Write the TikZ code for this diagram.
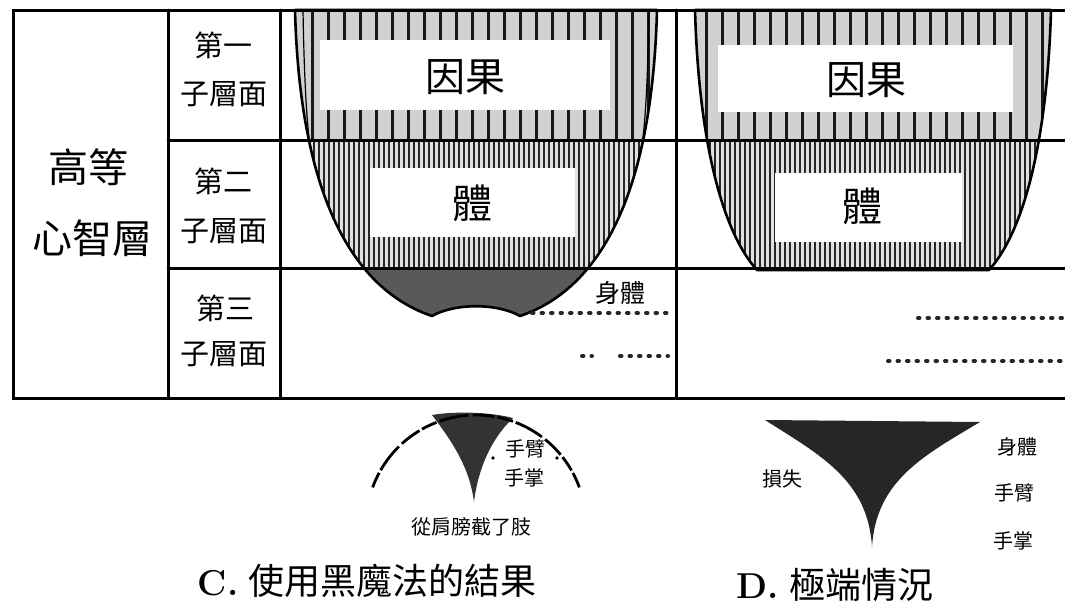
\documentclass[tikz,border=0pt]{standalone}
\usepackage{fontspec}
\newfontfamily\cjk{Noto Sans CJK TC}
\begin{document}
\begin{tikzpicture}[x=1pt,y=-1pt,
  frame/.style={line width=3pt, line cap=round},
  cupline/.style={line width=2.6pt, line join=round},
  thinline/.style={line width=1.2pt},
  hatchwide/.style={line width=3pt, black!90},
  hatchdense/.style={line width=2.2pt, black!85},
  cjkbig/.style={font=\cjk\fontsize{40}{40}\selectfont, inner sep=0pt},
  cjkmid/.style={font=\cjk\fontsize{29}{29}\selectfont, inner sep=0pt},
  cjksmall/.style={font=\cjk\fontsize{20}{20}\selectfont, inner sep=0pt},
  cjkbody/.style={font=\cjk\fontsize{25}{25}\selectfont, inner sep=0pt},
  cjktitle/.style={font=\cjk\fontsize{36}{36}\selectfont, inner sep=0pt},
  lettertitle/.style={font=\bfseries\fontsize{36}{36}\selectfont, inner sep=0pt},
  whitebox/.style={fill=white, draw=none},
  dotline/.style={line width=4pt, dash pattern=on 1.5pt off 8pt, line cap=round, black!85},
]
\useasboundingbox (0,0) rectangle (1065,605);
\fill[white] (0,0) rectangle (1065,605);

% ---------- cup C ----------
\def\cupC{(295,10) .. controls (300,200) and (355,290) .. (432,316) .. controls (455,303) and (497,303) .. (520,316) .. controls (597,290) and (652,200) .. (657,10) -- cycle}
\begin{scope}
  \clip \cupC;
  \fill[black!18] (280,10) rectangle (676,140);
  \foreach \x in {312,328,...,660} \draw[hatchwide] (\x,10) -- (\x,140);
  \fill[black!12] (280,140) rectangle (676,268);
  \foreach \x in {299,304,...,660} \draw[hatchdense] (\x,140) -- (\x,268);
  \fill[black!65] (280,268) rectangle (676,330);
\end{scope}
\draw[cupline] \cupC;
\draw[thinline] (303,10) .. controls (304,70) and (306,110) .. (309,138);
\draw[thinline] (649,10) .. controls (648,70) and (646,110) .. (643,138);

% ---------- cup D ----------
\def\cupD{(695,10) .. controls (699,150) and (725,235) .. (757,270) -- (989,270) .. controls (1021,235) and (1047,150) .. (1051,10) -- cycle}
\begin{scope}
  \clip \cupD;
  \fill[black!18] (676,10) rectangle (1065,140);
  \foreach \x in {706,722,...,1050} \draw[hatchwide] (\x,10) -- (\x,140);
  \fill[black!12] (676,140) rectangle (1065,270);
  \foreach \x in {700,705,...,1050} \draw[hatchdense] (\x,140) -- (\x,270);
\end{scope}
\draw[cupline] \cupD;

% ---------- frame ----------
\draw[frame] (1065,10) -- (13,10) -- (13,398) -- (1065,398);
\draw[frame] (168,10) -- (168,398);
\draw[frame] (280,10) -- (280,398);
\draw[frame] (676,10) -- (676,398);
\draw[frame] (168,140) -- (1065,140);
\draw[frame] (168,268) -- (1065,268);

% ---------- dotted lines ----------
\draw[dotline] (532,313) -- (668,313);
\draw[dotline] (582,356) -- (592,356);
\draw[dotline] (620,356) -- (668,356);
\draw[dotline] (918,318) -- (1065,318);
\draw[dotline] (888,361) -- (1065,361);

% ---------- labels in cups ----------
\fill[whitebox] (320,40) rectangle (610,110);
\node[cjkbig] (yinguoC) at (465,77) {因果};
\fill[whitebox] (370,168) rectangle (575,237);
\node[cjkbig] (tiC) at (472,203) {體};
\fill[whitebox] (585,279) rectangle (668,306);
\node[cjkbody] (shentiC) at (620,293) {身體};
\fill[whitebox] (718,45) rectangle (1013,112);
\node[cjkbig] (yinguoD) at (866,80) {因果};
\fill[whitebox] (775,173) rectangle (962,242);
\node[cjkbig] (tiD) at (862,206) {體};

% ---------- left labels ----------
\node[cjkbig] (gaodeng) at (88,167) {高等};
\node[cjkbig] (xinzhi) at (92,238) {心智層};
\node[cjkmid] (di1) at (223,45) {第一};
\node[cjkmid] (zi1) at (224,94) {子層面};
\node[cjkmid] (di2) at (223,181) {第二};
\node[cjkmid] (zi2) at (224,231) {子層面};
\node[cjkmid] (di3) at (225,308) {第三};
\node[cjkmid] (zi3) at (224,354) {子層面};

% ---------- figure C (bottom) ----------
\fill[black!80] (432,415) .. controls (455,445) and (470,470) .. (474,502)
   .. controls (478,470) and (490,440) .. (513,418)
   .. controls (490,412) and (455,411) .. cycle;
\draw[line width=2.8pt, dash pattern=on 16pt off 3pt on 30pt off 4pt on 22pt off 3pt]
   plot[domain=200:340, samples=60] ({476+110*cos(\x)},{525+110*sin(\x)});
\fill (493,458) circle (1.8pt);
\fill (557,458) circle (1.8pt);
\node[cjksmall] (shoubiC) at (525,449) {手臂};
\node[cjksmall] (shouzhangC) at (524,478) {手掌};
\node[cjksmall] (jiezhi) at (471,527) {從肩膀截了肢};

% ---------- figure D (bottom) ----------
\fill[black!85] (765,420) .. controls (820,455) and (868,480) .. (872,547)
   .. controls (876,480) and (925,455) .. (980,422) -- cycle;
\node[cjksmall] (sunshi) at (782,479) {損失};
\node[cjksmall] (shentiD) at (1017,447) {身體};
\node[cjksmall] (shoubiD) at (1014,493) {手臂};
\node[cjksmall] (shouzhangD) at (1013,541) {手掌};

% ---------- titles ----------
\node[lettertitle] (titleCl) at (218,583) {C.};
\node[cjktitle] (titleC) at (392,581) {使用黑魔法的結果};
\node[lettertitle] (titleDl) at (758,586) {D.};
\node[cjktitle] (titleD) at (861,585) {極端情況};
\end{tikzpicture}
\end{document}
